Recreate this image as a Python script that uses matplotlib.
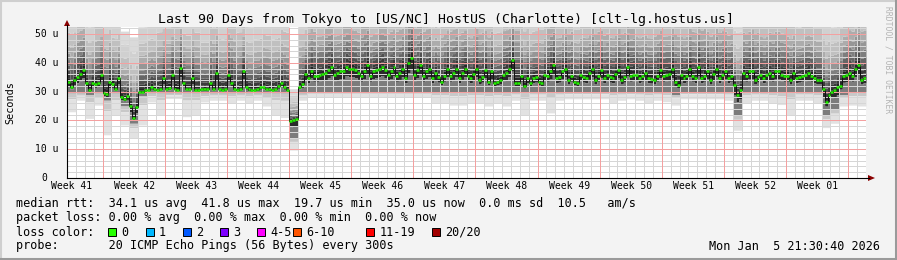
import matplotlib
matplotlib.use("Agg")
import matplotlib.pyplot as plt
from matplotlib.patches import Polygon, Rectangle
from matplotlib.lines import Line2D
import numpy as np

W, H = 897, 260
MONO = "DejaVu Sans Mono"

title = "Last 90 Days from Tokyo to [US/NC] HostUS (Charlotte) [clt-lg.hostus.us]"
week_labels = ["Week 41", "Week 42", "Week 43", "Week 44", "Week 45", "Week 46", "Week 47",
               "Week 48", "Week 49", "Week 50", "Week 51", "Week 52", "Week 01"]
y_values = [0, 10, 20, 30, 40, 50]
y_labels = ["0", "10 u", "20 u", "30 u", "40 u", "50 u"]

# median rtt, 3 samples per day (90 days)
median_rtt = [
    33.4, 31.7, 34.0, 35.0, 36.0, 37.5, 32.9, 30.6, 33.0, 32.5, 33.0, 35.8, 29.4, 29.0, 33.5, 32.5, 31.0, 34.6, 28.2, 27.6, 28.5,
    25.0, 20.7, 24.7, 30.0, 30.0, 30.6, 30.6, 31.5, 30.8, 30.6, 31.0, 34.6, 31.0, 31.2, 35.8, 31.0, 30.6, 38.1, 33.0, 31.0, 31.0,
    34.6, 30.6, 30.5, 31.0, 30.8, 31.0, 33.0, 31.0, 36.4, 31.0, 30.6, 31.0, 35.8, 33.0, 31.0, 30.6, 31.0, 37.0, 31.5, 30.8, 30.6,
    30.6, 30.8, 31.5, 31.7, 31.0, 30.8, 30.6, 31.0, 32.0, 33.0, 31.5, 30.5, 19.7, 20.0, 20.5, 31.7, 32.5, 36.0, 34.6, 37.2, 35.5,
    35.5, 35.8, 36.0, 36.4, 37.5, 38.6, 35.8, 36.4, 37.0, 37.0, 38.6, 38.0, 38.0, 37.5, 36.5, 35.5, 37.0, 39.2, 35.5, 37.0, 37.5,
    38.0, 38.6, 37.5, 35.8, 37.0, 38.6, 35.5, 36.5, 38.0, 34.6, 40.0, 41.8, 35.8, 37.5, 39.2, 35.5, 37.0, 38.0, 34.6, 36.4, 35.0,
    33.5, 35.5, 38.0, 35.5, 36.5, 38.0, 34.6, 36.5, 38.0, 35.5, 34.6, 36.0, 38.0, 34.0, 35.0, 37.5, 33.5, 37.0, 33.0, 33.5, 34.0,
    35.8, 36.4, 38.0, 40.9, 33.0, 33.0, 35.5, 31.8, 34.6, 33.0, 34.6, 35.0, 33.5, 33.0, 35.8, 35.5, 37.0, 39.2, 34.6, 35.0, 37.0,
    38.0, 34.0, 35.5, 33.5, 33.0, 35.8, 35.0, 34.6, 36.5, 38.0, 34.0, 35.5, 37.5, 34.6, 35.8, 35.0, 34.6, 36.0, 37.5, 34.0, 35.0,
    38.6, 35.5, 35.8, 35.8, 34.6, 35.5, 36.4, 34.6, 34.5, 34.0, 35.5, 37.5, 35.5, 35.8, 36.0, 38.0, 33.5, 32.4, 35.8, 34.6, 35.5,
    38.0, 35.5, 34.6, 38.6, 34.6, 35.5, 37.0, 34.0, 36.0, 38.0, 34.6, 35.8, 37.0, 34.6, 35.5, 32.4, 28.8, 30.6, 36.4, 35.5, 37.0,
    37.0, 34.0, 35.0, 35.8, 34.6, 35.8, 36.4, 35.5, 37.0, 37.0, 35.8, 35.5, 35.5, 34.0, 36.4, 34.6, 35.0, 35.5, 35.8, 36.4, 35.5,
    34.6, 34.0, 34.0, 31.0, 26.5, 28.8, 30.0, 30.6, 31.5, 31.8, 35.5, 35.8, 36.4, 35.5, 38.0, 39.2, 34.0, 34.6,
]

# smoke extent per day: bottom of the dense part, lowest ping, highest ping
ping_low = [
    29.5, 29.5, 29.0, 29.5, 27.0, 29.5, 25.0, 19.0, 28.5, 29.5,
    29.5, 29.5, 29.5, 29.5, 29.5, 29.5, 29.5, 29.5, 29.5, 29.5,
    29.5, 29.5, 29.5, 29.5, 29.5, 14.0, 29.5, 30.0, 30.0, 30.0,
    30.0, 30.0, 30.0, 30.0, 30.0, 30.0, 30.0, 30.0, 30.0, 30.0,
    30.0, 30.0, 30.0, 30.0, 30.0, 30.0, 30.0, 30.0, 30.0, 30.0,
    30.0, 30.0, 30.0, 30.0, 30.0, 30.0, 30.0, 30.0, 30.0, 30.0,
    30.0, 30.0, 30.0, 30.0, 30.0, 30.0, 30.0, 30.0, 29.0, 30.0,
    30.0, 30.0, 30.0, 30.0, 30.0, 22.0, 30.0, 30.0, 30.0, 30.0,
    30.0, 30.0, 30.0, 30.0, 30.0, 22.0, 24.0, 29.0, 30.0, 30.0,
]
ping_min = [
    23.0, 27.0, 20.7, 25.3, 15.0, 22.0, 18.4, 13.8, 18.4, 26.4,
    22.0, 27.6, 27.6, 21.3, 22.0, 26.4, 27.0, 27.0, 26.0, 27.0,
    26.0, 27.0, 25.0, 22.0, 21.0, 9.7, 27.0, 28.0, 28.0, 28.0,
    28.0, 28.0, 28.0, 28.0, 28.0, 28.0, 28.0, 28.0, 28.0, 28.0,
    28.0, 26.0, 26.0, 25.3, 25.3, 26.0, 26.0, 25.0, 26.0, 25.0,
    27.0, 22.0, 27.0, 27.0, 22.6, 27.0, 27.5, 27.5, 27.5, 27.5,
    27.5, 26.0, 27.0, 27.5, 27.0, 26.0, 27.0, 26.5, 25.3, 27.5,
    27.5, 27.5, 27.5, 27.5, 27.0, 16.6, 26.0, 27.0, 27.0, 26.0,
    25.5, 22.0, 27.0, 27.0, 26.0, 17.5, 19.0, 25.0, 25.3, 25.0,
]
ping_max = [
    62, 70, 58, 66, 64, 60, 51, 49, 58, 60,
    64, 66, 70, 62, 64, 58, 66, 60, 68, 64,
    58, 60, 62, 60, 64, 31, 62, 70, 66, 72,
    66, 72, 68, 74, 66, 72, 68, 70, 78, 72,
    70, 64, 68, 70, 68, 66, 70, 68, 62, 70,
    74, 64, 62, 64, 72, 66, 70, 64, 66, 70,
    68, 66, 70, 72, 66, 66, 68, 66, 70, 66,
    70, 72, 68, 70, 68, 56, 68, 70, 66, 68,
    68, 66, 64, 66, 64, 60, 58, 66, 70, 72,
]

legend_rows = [
    "median rtt:  34.1 us avg  41.8 us max  19.7 us min  35.0 us now  0.0 ms sd  10.5   am/s",
    "packet loss: 0.00 % avg  0.00 % max  0.00 % min  0.00 % now",
    "loss color:",
    "probe:       20 ICMP Echo Pings (56 Bytes) every 300s",
]
loss_labels = ["0", "1", "2", "3", "4-5", "6-10", "11-19", "20/20"]
loss_colors = ["#26ff00", "#00b8ff", "#0059ff", "#7e00ff", "#ff00ff", "#ff5500", "#ff0000", "#a10000"]
loss_box_x = [108, 145.5, 182.5, 219.5, 256.5, 293, 366, 432]
stamp = "Mon Jan  5 21:30:40 2026"


def fx(x):
    return x / W


def fy(y):
    return 1 - y / H


fig = plt.figure(figsize=(W / 100, H / 100), dpi=100, facecolor="#f3f3f3")
ax = fig.add_axes([fx(67), fy(178), (866 - 67) / W, (178 - 27) / H])
ax.set_xlim(0, 90)
ax.set_ylim(0, 52.43)
ax.set_facecolor("white")
for s in ax.spines.values():
    s.set_visible(False)
ax.set_xticks([])
ax.set_yticks([])

med = np.array(median_rtt)
n = len(med)
xe = np.arange(n + 1) / 3.0
lo_body = np.minimum(np.repeat(ping_low, 3), med)
lo_min = np.minimum(np.repeat(ping_min, 3), lo_body)
hi = np.maximum(np.repeat(ping_max, 3).astype(float), med)


def band(a, b, color):
    ax.fill_between(xe, np.append(a, a[-1]), np.append(b, b[-1]), step="post",
                    color=color, linewidth=0, zorder=1)


# smoke above the median, darkest next to it
up_f = [0, .02, .05, .09, .14, .2, .27, .35, .45, .6, .8, 1.0]
up_c = ["#141414", "#262626", "#3a3a3a", "#505050", "#666666", "#7e7e7e",
        "#969696", "#acacac", "#c0c0c0", "#d0d0d0", "#dadada"]
for i in range(len(up_c)):
    band(med + up_f[i] * (hi - med), med + up_f[i + 1] * (hi - med), up_c[i])

# smoke below the median
mid = med - 0.35 * (med - lo_body)
band(mid, med, "#2a2a2a")
band(lo_body, mid, "#7c7c7c")
tail = lo_body - 0.3 * (lo_body - lo_min)
band(tail, lo_body, "#c8c8c8")
band(lo_min, tail, "#e2e2e2")

# grid, 1 px dotted
dots = (0, (1, 1))
gkw = dict(lw=0.72, ls=dots, zorder=2, antialiased=False)
for v in np.arange(2, 53, 2):
    if v % 10:
        ax.axhline(v, color="#d6d6d6", **gkw)
for d in range(1, 90):
    if (d - 4) % 7:
        ax.axvline(d, color="#d6d6d6", **gkw)
for v in y_values[1:]:
    ax.axhline(v, color="#f4a0a0", **gkw)
for d in range(4, 90, 7):
    ax.axvline(d, color="#f4a0a0", **gkw)

# median line
ax.step(xe, np.append(med, med[-1]), where="post", color="#101010", lw=0.7, zorder=3)
ax.hlines(med, xe[:-1], xe[1:], colors="#22ee00", lw=1.8, zorder=4)

# axes lines and arrows
fig.add_artist(Line2D([fx(67), fx(67)], [fy(178), fy(25)], color="black", lw=0.8))
fig.add_artist(Line2D([fx(67), fx(869)], [fy(178), fy(178)], color="black", lw=0.8))
fig.add_artist(Polygon([[fx(64), fy(26)], [fx(70), fy(26)], [fx(67), fy(20)]],
                       closed=True, color="#8b0000", lw=0))
fig.add_artist(Polygon([[fx(868), fy(175)], [fx(868), fy(181)], [fx(875), fy(178)]],
                       closed=True, color="#8b0000", lw=0))

# tick labels
for v, lab in zip(y_values, y_labels):
    xr = 47 if lab == "0" else 58.5
    fig.text(fx(xr), fy(178 - v * 2.88), lab, ha="right", va="center",
             fontsize=7, family=MONO, color="black")
for k, lab in enumerate(week_labels):
    ax.text(0.56 + 7 * k, -2.8, lab, ha="center", va="center", fontsize=7,
            family=MONO, color="black", clip_on=False)

# texts
fig.text(fx(446), fy(19), title, ha="center", va="center", fontsize=9.5, family=MONO)
fig.text(fx(10), fy(103), "Seconds", ha="center", va="center", rotation=90,
         fontsize=7.3, family=MONO)
fig.text(fx(888), fy(60), "RRDTOOL / TOBI OETIKER", ha="center", va="center",
         rotation=270, fontsize=5.8, family=MONO, color="#b4b4b4")

row_y = [204, 218, 232, 246]
for y, row in zip(row_y, legend_rows):
    fig.text(fx(16), fy(y), row, ha="left", va="center", fontsize=8.5, family=MONO)
for bx, lab, col in zip(loss_box_x, loss_labels, loss_colors):
    fig.add_artist(Rectangle((fx(bx), fy(236)), 8 / W, 8 / H, facecolor=col,
                             edgecolor="black", lw=0.7))
    fig.text(fx(bx + 13.5), fy(232), lab, ha="left", va="center", fontsize=8.5, family=MONO)
fig.text(fx(880), fy(246), stamp, ha="right", va="center", fontsize=8.5, family=MONO)

# frame
fig.add_artist(Line2D([0, 1], [fy(1), fy(1)], color="#cfcfcf", lw=1.5))
fig.add_artist(Line2D([fx(1), fx(1)], [0, 1], color="#cfcfcf", lw=1.5))
fig.add_artist(Line2D([0, 1], [fy(258.5), fy(258.5)], color="#9a9a9a", lw=2.2))
fig.add_artist(Line2D([fx(895.5), fx(895.5)], [0, 1], color="#9a9a9a", lw=2.2))

fig.savefig("out.png", dpi=100, facecolor=fig.get_facecolor())
